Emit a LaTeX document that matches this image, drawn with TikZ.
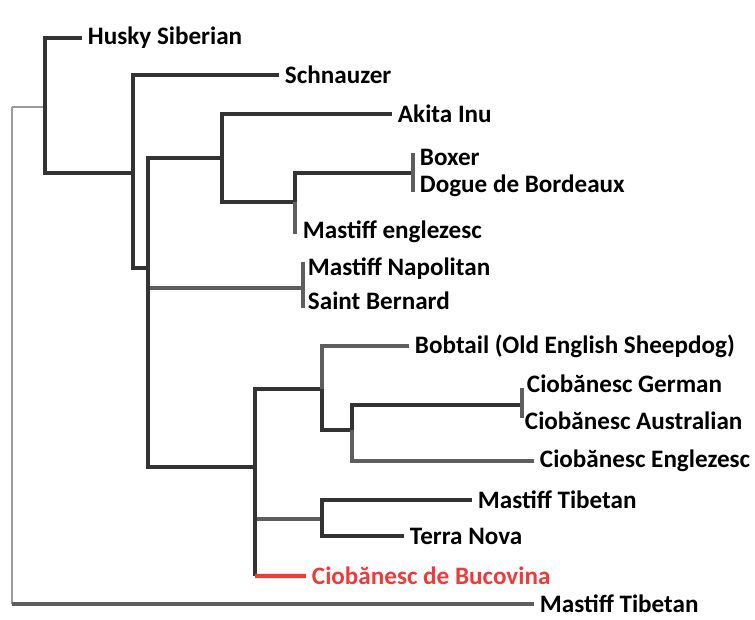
\documentclass[tikz,border=0pt]{standalone}
\usepackage{fontspec}
\setmainfont{Carlito}
\definecolor{branchdark}{HTML}{333333}
\definecolor{branchgrey}{HTML}{5E5E5E}
\definecolor{rootgrey}{HTML}{9C9C9C}
\definecolor{bucored}{HTML}{F03A3A}
\begin{document}
\begin{tikzpicture}[scale=0.2]
\tikzstyle{every node}+=[inner sep=0pt]
\tikzstyle{leaf}=[anchor=west, outer sep=3.4pt, font=\bfseries\fontsize{14.3}{17}\selectfont]
\tikzstyle{br}=[draw=branchdark, line width=2.1pt]
\tikzstyle{brg}=[draw=branchgrey, line width=2.1pt]
\tikzstyle{rootline}=[draw=rootgrey, line width=1pt]
\useasboundingbox (0,0) rectangle (75.5,-61.9);
% branch points
\coordinate (r) at (1.2,-10.7);
\coordinate (nA) at (4.5,-10.7);
\coordinate (nB) at (13.3,-17.3);
\coordinate (nC) at (14.8,-26.8);
\coordinate (nD) at (22.2,-15.8);
\coordinate (nE) at (29.5,-20.2);
\coordinate (nBD) at (41.3,-17.3);
\coordinate (nN) at (30.3,-28.8);
\coordinate (nF) at (25.5,-46.7);
\coordinate (nG) at (32.2,-38.9);
\coordinate (nH) at (35.2,-43.0);
\coordinate (nGA) at (52.2,-40.5);
\coordinate (nI) at (32.2,-51.9);
% bracket ends
\coordinate (bd1) at (41.3,-15.3);
\coordinate (bd2) at (41.3,-19.2);
\coordinate (nn1) at (30.3,-26.2);
\coordinate (nn2) at (30.3,-30.8);
\coordinate (ga1) at (52.2,-38.8);
\coordinate (ga2) at (52.2,-41.8);
% leaves
\node[leaf] (husky) at (8.2,-3.8) {Husky Siberian};
\node[leaf] (schnauzer) at (27.9,-7.5) {Schnauzer};
\node[leaf] (akita) at (39.2,-11.4) {Akita Inu};
\node[leaf] (boxer) at (41.4,-15.7) {Boxer};
\node[leaf] (dogue) at (41.4,-18.6) {Dogue de Bordeaux};
\node[leaf] (mengl) at (29.7,-23.2) {Mastiff englezesc};
\node[leaf] (napol) at (30.2,-26.9) {Mastiff Napolitan};
\node[leaf] (saint) at (30.2,-30.1) {Saint Bernard};
\node[leaf] (bobtail) at (40.9,-34.6) {Bobtail (Old English Sheepdog)};
\node[leaf] (german) at (52.1,-38.4) {Ciobănesc German};
\node[leaf] (austral) at (51.9,-42.1) {Ciobănesc Australian};
\node[leaf] (cengl) at (53.4,-46.1) {Ciobănesc Englezesc};
\node[leaf] (mtib) at (47.2,-50.0) {Mastiff Tibetan};
\node[leaf] (terra) at (40.4,-53.6) {Terra Nova};
\node[leaf, text=bucored] (bucov) at (30.6,-57.6) {Ciobănesc de Bucovina};
\node[leaf] (mtib2) at (53.4,-60.4) {Mastiff Tibetan};
% root
\draw[rootline] (r) -- (r|-mtib2);
\draw[draw=branchgrey, line width=2.5pt] (r|-mtib2) -- (mtib2);
\draw[rootline] (r) -- (nA);
% upper clade
\draw[br] (nA) |- (husky);
\draw[br] (nA) |- (nB);
\draw[br] (nB) |- (schnauzer);
\draw[br] (nB) |- (nC);
\draw[br] (nC) |- (nD);
\draw[brg] (nC) |- (nN);
\draw[brg] (nn1) -- (nn2);
\draw[br] (nC) |- (nF);
\draw[br] (nD) |- (akita);
\draw[br] (nD) |- (nE);
\draw[brg] (nE) |- (mengl);
\draw[br] (nE) |- (nBD);
\draw[brg] (bd1) -- (bd2);
% lower clade
\draw[br] (nF) |- (nG);
\draw[brg] (nF) |- (nI);
\draw[br] (nF) -- (nF|-bucov);
\draw[draw=bucored, line width=2.5pt] (nF|-bucov) -- (bucov);
\draw[brg] (nG) |- (bobtail);
\draw[br] (nG) |- (nH);
\draw[br] (nH) |- (nGA);
\draw[brg] (nH) |- (cengl);
\draw[brg] (ga1) -- (ga2);
\draw[br] (nI) |- (mtib);
\draw[br] (nI) |- (terra);
\end{tikzpicture}
\end{document}
